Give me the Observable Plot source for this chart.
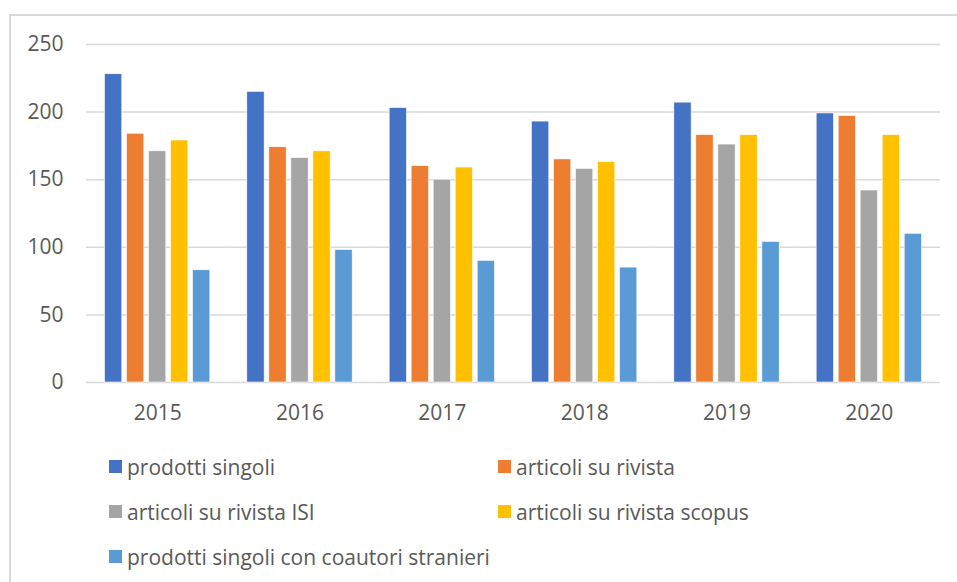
<!DOCTYPE html>
<html><head><meta charset="utf-8">
<script src="https://cdn.jsdelivr.net/npm/d3@7"></script>
<script src="https://cdn.jsdelivr.net/npm/@observablehq/plot@0.6"></script>
<style>
body{margin:0;background:#fff;}
#wrap{position:relative;width:957px;height:582px;overflow:hidden;font-family:"Open Sans",sans-serif;color:#595959;}
#chart{position:absolute;left:0;top:0;}
#frame{position:absolute;left:9px;top:14px;width:960px;height:600px;border-left:2px solid #d9d9d9;border-top:2px solid #d9d9d9;box-sizing:border-box;pointer-events:none;}
.lg{position:absolute;display:flex;align-items:center;font-size:21px;white-space:nowrap;transform:translateY(-50%);}
.sw{width:13px;height:13px;margin-right:5px;flex:none;}
</style>
</head><body>
<div id="wrap"><div id="chart"></div><div id="frame"></div></div>
<script>
const years = ["2015", "2016", "2017", "2018", "2019", "2020"];
const series = ["prodotti singoli", "articoli su rivista", "articoli su rivista ISI", "articoli su rivista scopus", "prodotti singoli con coautori stranieri"];
const colors = ["#4472C4", "#ED7D31", "#A5A5A5", "#FFC000", "#5B9BD5"];
const prodottiSingoli = [228, 215, 203, 193, 207, 199];
const articoliRivista = [184, 174, 160, 165, 183, 197];
const articoliISI = [171, 166, 150, 158, 176, 142];
const articoliScopus = [179, 171, 159, 163, 183, 183];
const coautoriStranieri = [83, 98, 90, 85, 104, 110];
const yTicks = [0, 50, 100, 150, 200, 250];

const seriesValues = [prodottiSingoli, articoliRivista, articoliISI, articoliScopus, coautoriStranieri];
const data = [];
years.forEach((yr, i) => series.forEach((s, j) => data.push({year: yr, series: s, value: seriesValues[j][i]})));

const chart = Plot.plot({
  width: 957, height: 430,
  marginLeft: 86, marginRight: 17, marginTop: 44, marginBottom: 48,
  style: {fontFamily: "'Open Sans', sans-serif", fontSize: "21px", color: "#595959", background: "transparent"},
  fx: {domain: years, paddingInner: 0, paddingOuter: 0, round: false, axis: "bottom", tickSize: 0, tickPadding: 23, label: null},
  x: {domain: series, axis: null, paddingInner: 0.214, paddingOuter: 0.84, round: false},
  y: {domain: [0, 250], ticks: yTicks, tickSize: 0, tickPadding: 23, label: null},
  color: {domain: series, range: colors},
  marks: [
    Plot.ruleY(yTicks, {stroke: "#d9d9d9", strokeWidth: 1.5}),
    Plot.barY(data, {fx: "year", x: "series", y: "value", fill: "series", stroke: "white", strokeWidth: 0.6})
  ]
});
document.getElementById("chart").appendChild(chart);

// legend (two columns, three rows)
const wrap = document.getElementById("wrap");
const colX = [109, 498];
const rowY = [466.7, 511.7, 556.7];
series.forEach((s, i) => {
  const el = document.createElement("div");
  el.className = "lg";
  el.style.left = colX[i % 2] + "px";
  el.style.top = rowY[Math.floor(i / 2)] + "px";
  const sw = document.createElement("div");
  sw.className = "sw";
  sw.style.background = colors[i];
  const tx = document.createElement("span");
  tx.textContent = s;
  el.appendChild(sw); el.appendChild(tx);
  wrap.appendChild(el);
});
</script>
</body></html>
